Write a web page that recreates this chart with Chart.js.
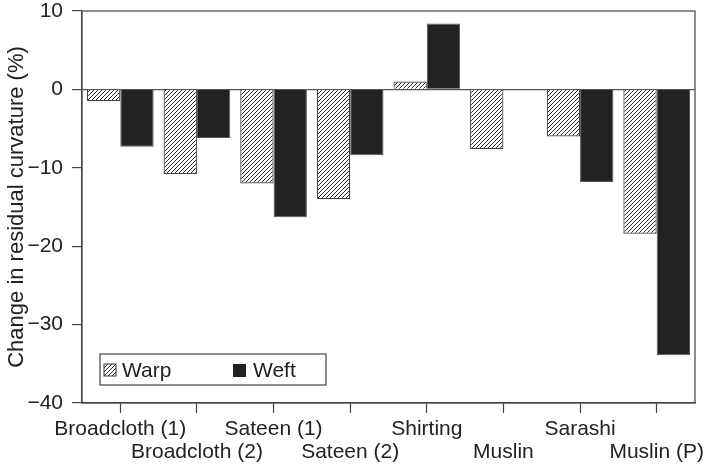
<!DOCTYPE html>
<html>
<head>
<meta charset="utf-8">
<script src="https://cdn.jsdelivr.net/npm/chart.js@4"></script>
<style>
  body { margin: 0; background: #fff; }
  #wrap { width: 722px; height: 464px; }
</style>
</head>
<body>
<div id="wrap"><canvas id="myChart"></canvas></div>
<script>
var categories = [
    "Broadcloth (1)", "Broadcloth (2)", "Sateen (1)", "Sateen (2)",
    "Shirting", "Muslin", "Sarashi", "Muslin (P)"
];
var warp = [-1.5, -10.8, -12.0, -14.0, 1.0, -7.6, -6.0, -18.4];
var weft = [-7.3, -6.2, -16.3, -8.4, 8.4, null, -11.8, -33.9];
var yTicks = [10, 0, -10, -20, -30, -40];

var FONT = "'Liberation Sans', Arial, sans-serif";
var INK = "#222";

// hatch pattern for the warp bars
function hatch() {
    var c = document.createElement('canvas');
    c.width = 4; c.height = 4;
    var g = c.getContext('2d');
    g.fillStyle = '#fff';
    g.fillRect(0, 0, 4, 4);
    g.strokeStyle = '#2a2a2a';
    g.lineWidth = 1;
    g.beginPath();
    g.moveTo(-1, 5); g.lineTo(5, -1);
    g.moveTo(-1, 1); g.lineTo(1, -1);
    g.moveTo(3, 5); g.lineTo(5, 3);
    g.stroke();
    return g.createPattern(c, 'repeat');
}
var warpFill = hatch();

// x labels alternate between two rows
var xLabels = categories.map(function (c, i) {
    return i % 2 === 0 ? c : ['', c];
});

var framePlugin = {
    id: 'frame',
    afterDraw: function (chart) {
        var a = chart.chartArea, ctx = chart.ctx;
        ctx.save();
        ctx.strokeStyle = '#444';
        ctx.lineWidth = 1.2;
        ctx.strokeRect(a.left, a.top, a.right - a.left, a.bottom - a.top);

        // legend box inside the plot
        var lx = 100, ly = 354, lw = 226, lh = 31;
        ctx.fillStyle = '#fff';
        ctx.fillRect(lx, ly, lw, lh);
        ctx.strokeRect(lx, ly, lw, lh);
        ctx.fillStyle = warpFill;
        ctx.fillRect(104, 364, 12, 12);
        ctx.strokeStyle = '#333';
        ctx.lineWidth = 1;
        ctx.strokeRect(104, 364, 12, 12);
        ctx.fillStyle = INK;
        ctx.fillRect(233, 364, 13, 13);
        ctx.font = "21px " + FONT;
        ctx.textBaseline = 'middle';
        ctx.fillText('Warp', 122, 371);
        ctx.fillText('Weft', 253, 371);
        ctx.restore();
    }
};

var ctx = document.getElementById('myChart').getContext('2d');
new Chart(ctx, {
    type: 'bar',
    data: {
        labels: xLabels,
        datasets: [{
            label: 'Warp',
            data: warp,
            backgroundColor: warpFill,
            borderColor: '#444',
            borderWidth: 1.2
        }, {
            label: 'Weft',
            data: weft,
            backgroundColor: INK,
            borderColor: '#555',
            borderWidth: 1
        }]
    },
    plugins: [framePlugin],
    options: {
        responsive: true,
        maintainAspectRatio: false,
        animation: false,
        datasets: {
            bar: { barPercentage: 1, categoryPercentage: 0.87 }
        },
        layout: { padding: { left: 0, right: 27, top: 11, bottom: 0 } },
        plugins: {
            legend: { display: false },
            tooltip: { enabled: false }
        },
        scales: {
            x: {
                offset: true,
                grid: {
                    offset: false,
                    drawOnChartArea: false,
                    tickLength: 10,
                    tickColor: '#444',
                    tickWidth: 1.2
                },
                border: { color: '#444', width: 1.2 },
                ticks: {
                    color: INK,
                    font: { family: FONT, size: 21, lineHeight: 1.12 },
                    padding: 4,
                    maxRotation: 0,
                    autoSkip: false
                },
                afterFit: function (s) { s.height = 61; }
            },
            y: {
                min: -40,
                max: 10,
                afterBuildTicks: function (s) {
                    s.ticks = yTicks.map(function (v) { return { value: v }; });
                },
                grid: {
                    color: function (c) { return c.tick && c.tick.value === 0 ? '#555' : 'rgba(0,0,0,0)'; },
                    lineWidth: 1.2,
                    tickLength: 10,
                    tickColor: '#444',
                    tickWidth: 1.2
                },
                border: { color: '#444', width: 1.2 },
                ticks: {
                    color: INK,
                    font: { family: FONT, size: 21, lineHeight: 0.15 },
                    padding: 9,
                    callback: function (v) { return v < 0 ? '\u2212' + Math.abs(v) : String(v); }
                },
                title: {
                    display: true,
                    text: 'Change in residual curvature (%)',
                    color: INK,
                    font: { family: FONT, size: 22 },
                    padding: { top: 4, bottom: 0 }
                },
                afterFit: function (s) { s.width = 82; }
            }
        }
    }
});
</script>
</body>
</html>
